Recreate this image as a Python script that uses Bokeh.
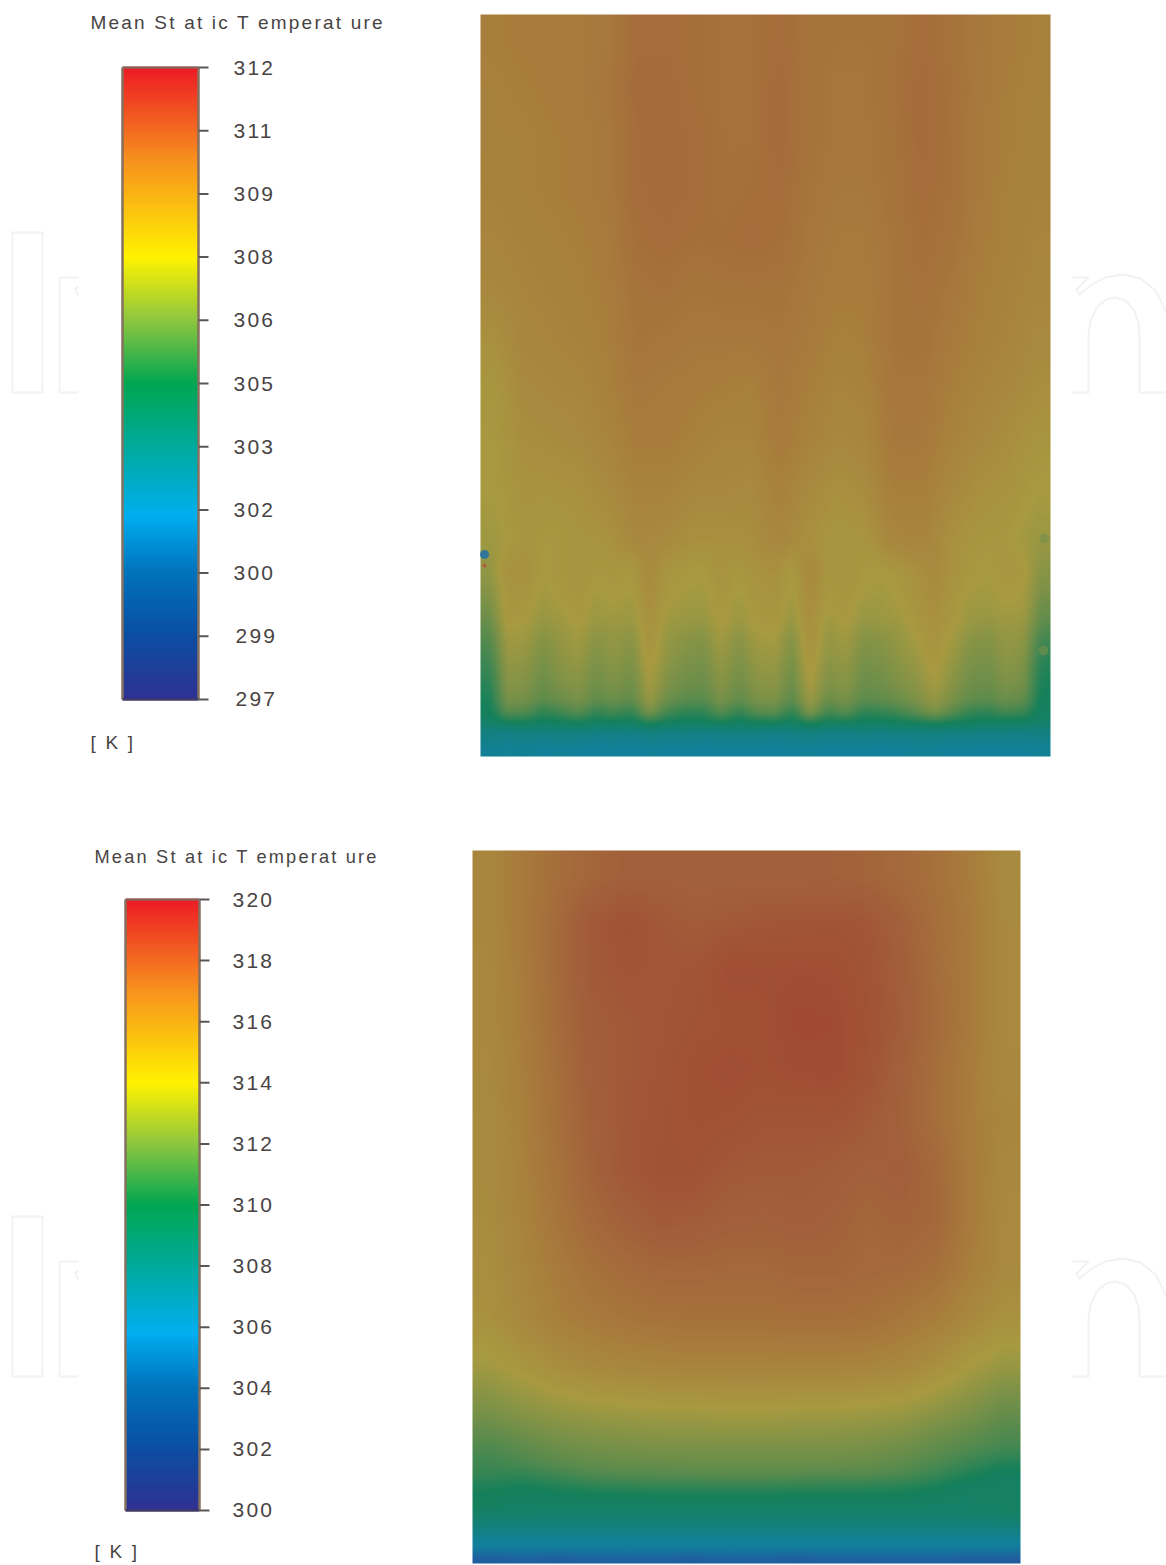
import numpy as np
from bokeh.core.properties import value
from bokeh.embed import file_html
from bokeh.models import ColumnDataSource, LinearColorMapper, Range1d
from bokeh.plotting import figure
from bokeh.resources import INLINE

# ---------- text and scale data ----------
TITLE = "Mean St at ic T emperat ure"
UNIT = "[ K ]"
scale1_ticks = [297, 298.5, 300, 301.5, 303, 304.5, 306, 307.5, 309, 310.5, 312]
scale1_labels = ["297", "299", "300", "302", "303", "305", "306", "308", "309", "311", "312"]
scale2_ticks = [300, 302, 304, 306, 308, 310, 312, 314, 316, 318, 320]
scale2_labels = ["300", "302", "304", "306", "308", "310", "312", "314", "316", "318", "320"]

# ---------- field values (K) ----------
field1_upper_rows = [39, 89, 139, 189, 239, 289, 339, 389, 439, 489, 539]
field1_upper = [
 [308.9,309.0,309.0,309.1,309.2,309.8,309.8,309.7,309.6,309.6,309.8,309.5,309.4,309.4,309.5,309.8,309.5,309.2,309.0,308.8],
 [308.8,308.9,309.0,309.1,309.3,309.9,309.9,309.7,309.6,309.6,309.9,309.5,309.3,309.3,309.6,309.9,309.6,309.2,308.9,308.8],
 [308.8,308.8,308.9,309.0,309.2,309.8,309.9,309.8,309.6,309.6,309.9,309.5,309.3,309.3,309.5,309.9,309.6,309.1,308.9,308.7],
 [308.7,308.8,308.9,309.0,309.2,309.8,309.9,309.8,309.6,309.7,309.8,309.4,309.2,309.2,309.5,309.8,309.6,309.1,308.8,308.7],
 [308.6,308.7,308.8,308.9,309.1,309.7,309.8,309.7,309.7,309.8,309.7,309.3,309.1,309.1,309.4,309.7,309.5,309.0,308.8,308.6],
 [308.4,308.6,308.7,308.8,309.0,309.5,309.6,309.4,309.5,309.5,309.5,309.2,309.0,309.0,309.4,309.6,309.3,308.9,308.7,308.5],
 [308.0,308.5,308.6,308.7,308.9,309.4,309.3,309.2,309.2,309.2,309.3,309.1,308.8,308.9,309.4,309.5,309.1,308.8,308.6,308.3],
 [307.7,308.3,308.4,308.5,308.8,309.2,309.1,309.0,308.9,308.8,309.2,308.9,308.6,308.7,309.3,309.3,308.9,308.6,308.4,308.1],
 [307.6,308.1,308.2,308.3,308.6,309.0,309.0,308.8,308.6,308.6,309.1,308.7,308.4,308.5,309.2,309.2,308.7,308.4,308.1,307.8],
 [307.5,307.9,307.9,308.0,308.3,308.7,308.7,308.4,308.4,308.3,308.8,308.3,308.0,308.2,308.9,308.9,308.4,308.0,307.9,307.5],
 [307.3,307.8,307.6,307.8,307.9,308.4,308.3,308.0,308.0,308.1,308.5,308.0,307.7,307.8,308.5,308.6,308.0,307.7,307.6,307.2],
]
field1_lower_rows = [572, 588, 604, 620, 636, 652, 668, 684, 700, 712, 722, 732, 748]
field1_lower = [
 [307.0,307.9,308.0,307.5,307.7,307.9,307.6,307.7,307.6,308.3,307.7,307.6,307.5,307.9,307.6,307.9,308.0,307.5,308.4,307.7,307.9,307.6,307.5,307.7,308.0,308.3,307.9,307.6,307.5,307.7,307.6,306.8],
 [306.8,307.8,307.8,307.4,307.6,307.8,307.5,307.6,307.5,308.2,307.6,307.5,307.4,307.8,307.5,307.8,307.9,307.4,308.3,307.6,307.8,307.5,307.4,307.6,307.9,308.2,307.8,307.5,307.4,307.6,307.5,306.6],
 [306.5,307.7,307.7,307.3,307.5,307.7,307.3,307.5,307.3,308.1,307.5,307.3,307.3,307.7,307.3,307.7,307.8,307.3,308.2,307.5,307.7,307.3,307.3,307.5,307.8,308.1,307.7,307.3,307.3,307.5,307.4,306.3],
 [306.2,307.6,307.5,307.1,307.3,307.6,307.2,307.3,307.2,308.0,307.3,307.2,307.1,307.6,307.2,307.6,307.7,307.1,308.1,307.3,307.6,307.1,307.2,307.3,307.7,308.0,307.6,307.2,307.1,307.3,307.2,306.0],
 [305.8,307.4,307.3,306.8,307.1,307.4,306.9,307.1,306.9,307.9,307.1,306.9,306.8,307.4,306.9,307.4,307.5,306.8,308.0,307.1,307.4,306.8,306.9,307.1,307.5,307.9,307.4,306.9,306.8,307.1,307.0,305.5],
 [305.5,307.2,307.1,306.6,307.0,307.2,306.7,307.0,306.7,307.8,307.0,306.7,306.6,307.2,306.7,307.2,307.3,306.6,307.9,307.0,307.2,306.6,306.7,307.0,307.3,307.8,307.2,306.7,306.6,307.0,306.8,305.1],
 [305.2,307.0,306.9,306.4,306.8,307.0,306.5,306.8,306.5,307.6,306.8,306.5,306.4,307.0,306.5,307.0,307.1,306.4,307.7,306.8,307.0,306.4,306.5,306.8,307.1,307.6,307.0,306.5,306.4,306.8,306.6,304.8],
 [304.9,306.8,306.7,306.2,306.6,306.8,306.3,306.6,306.3,307.4,306.6,306.3,306.2,306.8,306.3,306.8,306.9,306.2,307.5,306.6,306.8,306.2,306.3,306.6,306.9,307.4,306.8,306.3,306.2,306.6,306.4,304.6],
 [304.6,306.5,306.4,305.9,306.2,306.5,306.0,306.2,306.0,307.1,306.2,305.9,305.8,306.5,306.0,306.5,306.6,305.9,307.2,306.2,306.5,305.9,306.0,306.2,306.6,307.1,306.5,306.0,305.9,306.2,306.0,304.4],
 [304.4,305.8,305.7,305.0,305.4,305.8,305.1,305.4,305.1,306.5,305.4,305.0,305.0,305.8,305.1,305.8,305.9,305.0,306.6,305.4,305.8,305.0,305.1,305.4,305.9,306.5,305.8,305.1,305.0,305.4,305.2,304.2],
 [304.0,304.5,304.5,304.3,304.4,304.6,304.3,304.4,304.3,304.9,304.4,304.3,304.3,304.6,304.3,304.5,304.6,304.3,304.9,304.4,304.5,304.3,304.3,304.4,304.6,304.9,304.5,304.4,304.3,304.3,304.2,304.0],
 [303.0,302.9,303.0,303.0,303.0,303.1,302.8,302.9,302.8,303.1,302.9,303.0,302.9,302.9,303.0,303.0,302.8,302.9,303.1,302.9,302.9,303.0,302.9,303.0,303.0,303.1,303.0,303.0,302.9,303.0,302.9,303.0],
 [302.3,302.2,302.3,302.1,302.2,302.1,302.0,302.1,302.0,302.2,302.0,302.1,302.0,302.1,302.1,302.1,302.0,302.1,302.2,302.0,302.1,302.1,302.0,302.1,302.2,302.2,302.1,302.1,302.0,302.1,302.1,302.2],
]
field2_upper_rows = [875, 924, 973, 1022, 1071, 1121, 1170, 1219, 1268, 1317, 1366, 1415]
field2_upper = [
 [315.3,316.2,317.0,317.6,318.0,318.0,317.9,317.9,317.9,317.9,317.9,317.7,317.3,316.8,316.0,315.0],
 [315.3,316.2,317.3,318.6,319.1,318.7,318.4,318.6,318.8,318.9,319.0,318.8,318.0,317.0,316.2,315.1],
 [315.2,316.1,317.3,318.5,318.9,318.8,318.9,319.6,319.5,319.6,319.5,319.0,318.2,317.1,316.2,315.1],
 [315.2,316.0,317.2,318.3,318.6,318.8,319.1,319.3,319.4,319.9,319.8,319.2,318.3,317.2,316.2,315.1],
 [315.1,315.9,317.0,318.2,318.6,318.9,319.4,319.6,319.4,319.6,319.7,319.0,318.0,317.0,316.0,315.2],
 [315.0,315.8,316.9,318.0,318.7,319.0,319.3,319.2,318.9,318.9,318.9,318.5,317.9,317.0,316.0,315.3],
 [315.0,315.7,316.7,317.8,318.7,319.1,319.1,318.6,318.5,318.5,318.3,318.0,318.2,317.4,316.1,315.2],
 [314.9,315.6,316.5,317.4,318.0,318.5,318.4,318.1,318.0,318.2,318.0,317.5,317.8,317.5,316.1,315.1],
 [314.8,315.4,316.1,316.8,317.2,317.5,317.5,317.4,317.4,317.6,317.6,317.4,317.3,316.9,315.9,315.1],
 [314.6,315.2,315.8,316.2,316.5,316.7,316.8,316.8,316.8,316.9,316.9,316.8,316.4,315.9,315.2,314.6],
 [313.8,314.3,314.8,315.1,315.3,315.4,315.5,315.5,315.5,315.5,315.5,315.4,315.2,314.7,314.0,313.5],
 [312.6,313.0,313.3,313.5,313.6,313.7,313.7,313.8,313.8,313.7,313.7,313.6,313.5,313.1,312.7,312.1],
]
field2_lower_rows = [1445, 1455, 1465, 1475, 1485, 1495, 1505, 1515, 1525, 1535, 1547, 1559]
field2_lower = [
 [311.6,312.0,312.4,312.6,312.7,312.8,312.8,312.8,312.8,312.8,312.8,312.7,312.5,312.1,311.7,311.3],
 [311.3,311.7,312.1,312.3,312.4,312.5,312.5,312.5,312.5,312.5,312.5,312.4,312.2,311.8,311.3,310.8],
 [311.1,311.3,311.7,312.0,312.1,312.1,312.2,312.2,312.2,312.2,312.2,312.1,311.9,311.4,310.8,310.2],
 [310.8,310.7,311.1,311.5,311.6,311.7,311.7,311.8,311.8,311.7,311.6,311.6,311.4,310.9,310.2,309.7],
 [310.3,310.1,310.4,310.7,310.8,310.9,310.9,310.9,310.9,310.8,310.8,310.7,310.6,310.2,309.6,309.5],
 [309.9,309.7,309.8,309.9,310.0,310.0,310.1,310.1,310.1,310.0,310.0,310.0,309.9,309.7,309.5,309.5],
 [309.8,309.4,309.5,309.5,309.5,309.6,309.6,309.6,309.6,309.5,309.5,309.5,309.5,309.4,309.4,309.6],
 [309.2,309.1,309.0,309.0,309.0,309.0,309.0,309.0,309.0,309.0,309.0,309.0,309.0,309.0,309.1,309.3],
 [308.4,308.3,308.3,308.3,308.3,308.3,308.3,308.3,308.3,308.3,308.3,308.3,308.3,308.3,308.3,308.4],
 [307.4,307.4,307.4,307.4,307.4,307.4,307.4,307.4,307.4,307.4,307.4,307.4,307.4,307.4,307.4,307.4],
 [306.3,306.3,306.3,306.3,306.2,306.3,306.3,306.2,306.2,306.3,306.3,306.3,306.3,306.3,306.3,306.3],
 [303.8,304.0,303.8,304.0,304.2,304.0,303.8,304.2,304.0,303.8,304.0,303.9,304.1,304.0,303.8,303.6],
]
spot_x = [484, 484, 1044, 1043]
spot_y = [554, 565, 538, 650]
spot_size = [9, 4, 10, 10]
spot_color = ["#1f6fa8", "#b5533c", "#7f9048", "#648c4a"]

# ---------- colours ----------
BAR_POS = [0, .10, .20, .29, .50, .60, .70, .85, 1]
BAR_COL = ["#2e3192", "#0b4ea2", "#0072bc", "#00aeef", "#00a651", "#8dc63f", "#fff200", "#f7941d", "#ed1c24"]
FIELD_POS = [0, .20, .33, .50, .60, .70, .80, .90, 1]
FIELD_COL = ["#2a3a8c", "#1e60a0", "#12809c", "#15805a", "#608c4c", "#a89a40", "#a87c3c", "#a2603a", "#a04833"]
INK = "#484444"
MARK = "#f1f2f2"

def ramp(pos, cols, n=256):
    rgb = np.array([[int(c[i:i + 2], 16) for i in (1, 3, 5)] for c in cols], float)
    t = np.linspace(0, 1, n)
    out = np.stack([np.interp(t, pos, rgb[:, k]) for k in range(3)], 1).round().astype(int)
    return ["#%02x%02x%02x" % tuple(r) for r in out]

# ---------- page layout (pixel rows measured from page top) ----------
PAGE_W, PAGE_H = 1166, 1565
Y = lambda px: PAGE_H - px

p = figure(width=PAGE_W, height=PAGE_H, output_backend="svg", toolbar_location=None,
           x_range=Range1d(0, PAGE_W), y_range=Range1d(0, PAGE_H),
           x_axis_type=None, y_axis_type=None, min_border=0,
           outline_line_color=None, background_fill_color="white")
p.grid.visible = False

# watermark outlines (decoration)
n_left_x = [78, 59, 59, 78]
n_left_y = [277, 277, 392, 392]
n_hook_x = [78, 75, 76, 78]
n_hook_y = [286, 288, 292, 294]
n_right_x = [1072, 1088, 1076, 1079, 1090, 1104, 1122, 1140, 1155, 1166]
n_right_y = [277, 277, 289, 294, 285, 277, 274, 278, 290, 312]
n_foot_x = [1072, 1088, 1088, 1090, 1097, 1106, 1115, 1125, 1133, 1138, 1139, 1139, 1165]
n_foot_y = [392, 392, 335, 320, 306, 299, 297, 300, 309, 322, 335, 392, 392]
for dy in (0, 984):
    p.quad(left=12, right=42, top=Y(232 + dy), bottom=Y(392 + dy), fill_color=None,
           line_color=MARK, line_width=2)
    xs = [n_left_x, n_hook_x, n_right_x, n_foot_x]
    ys = [[Y(v + dy) for v in n_left_y], [Y(v + dy) for v in n_hook_y],
          [Y(v + dy) for v in n_right_y], [Y(v + dy) for v in n_foot_y]]
    p.multi_line(xs, ys, line_color=MARK, line_width=2, line_join="round")

def colorbar(name, low, high, top_px, bottom_px, left, right, ticks, labels, label_x, title_xy, title_size, unit_xy):
    per_px = (high - low) / (bottom_px - top_px)
    p.extra_y_ranges[name] = Range1d(low - (PAGE_H - bottom_px) * per_px, high + top_px * per_px)
    mapper = LinearColorMapper(palette=ramp(BAR_POS, BAR_COL), low=low, high=high)
    grad = np.linspace(low, high, 256).reshape(-1, 1)
    p.image(image=[grad], x=left, y=low, dw=right - left, dh=high - low,
            color_mapper=mapper, y_range_name=name)
    p.segment(x0=[left, right], x1=[left, right], y0=[low, low], y1=[high, high],
              line_color="#85705f", line_width=2.5, y_range_name=name)
    p.segment(x0=[left, left], x1=[right, right], y0=[high, low], y1=[high, low],
              line_color=["#8f6258", "#3f3a66"], line_width=2.5, y_range_name=name)
    p.segment(x0=[right] * len(ticks), x1=[right + 10] * len(ticks), y0=ticks, y1=ticks,
              line_color="#5a5656", line_width=2, y_range_name=name)
    src = ColumnDataSource(dict(x=label_x, y=[t + per_px for t in ticks[:1]] + ticks[1:], t=labels))
    p.text(x="x", y="y", text="t", source=src, y_range_name=name, text_font=value("Liberation Sans"),
           text_font_size="21px", text_color=INK, text_baseline="middle", text_align="left")
    p.text(x=[title_xy[0]], y=[Y(title_xy[1])], text=[TITLE], text_font=value("Liberation Sans"),
           text_font_size=title_size, text_color=INK, text_baseline="middle", text_align="left")
    p.text(x=[unit_xy[0]], y=[Y(unit_xy[1])], text=[UNIT], text_font=value("Liberation Sans"),
           text_font_size="19px", text_color=INK, text_baseline="middle", text_align="left")

colorbar("s1", 297, 312, 67, 699, 122, 198, scale1_ticks, scale1_labels,
         [235, 235, 233, 233, 233, 233, 233, 233, 233, 233, 233], (90, 22), "19px", (90, 742))
colorbar("s2", 300, 320, 899, 1510, 125, 199, scale2_ticks, scale2_labels,
         [232] * 11, (94, 856), "18.2px", (94, 1551))

def soften(a, k, axis):
    """Box filter, to give the soft look of the printed figure."""
    pad = [(0, 0), (0, 0)]
    pad[axis] = (k, k)
    b = np.pad(a, pad, mode="edge")
    c = np.cumsum(b, axis=axis)
    c = np.insert(c, 0, 0, axis=axis)
    n = 2 * k + 1
    return (np.take(c, range(n, c.shape[axis]), axis=axis) - np.take(c, range(0, c.shape[axis] - n), axis=axis)) / n

def field(sections, low, high, left, right, top_px, bottom_px):
    """Display the read grid at screen resolution: the browser would show it as hard cells otherwise."""
    xpix = np.arange(left, right) + .5
    ypix = np.arange(top_px, bottom_px) + .5
    rows, ypos = [], []
    for row_y, mat in sections:
        mat = np.array(mat, float)
        cx = left + (np.arange(mat.shape[1]) + .5) * (right - left) / mat.shape[1]
        for y, r in zip(row_y, mat):
            rows.append(np.interp(xpix, cx, r))
            ypos.append(y)
    rows = np.array(rows)
    img = np.stack([np.interp(ypix, ypos, rows[:, j]) for j in range(len(xpix))], 1)
    img = soften(soften(img, 3, 1), 2, 0)
    img = soften(soften(img, 2, 1), 2, 0)
    mapper = LinearColorMapper(palette=ramp(FIELD_POS, FIELD_COL, 1024), low=low, high=high)
    p.image(image=[img[::-1].astype(np.float32)], x=left, y=Y(bottom_px), dw=right - left,
            dh=bottom_px - top_px, color_mapper=mapper)

field([(field1_upper_rows, field1_upper), (field1_lower_rows, field1_lower)], 297, 312, 480, 1050, 14, 756)
field([(field2_upper_rows, field2_upper), (field2_lower_rows, field2_lower)], 300, 320, 472, 1020, 850, 1563)
p.scatter(x=spot_x, y=[Y(v) for v in spot_y], size=spot_size, color=spot_color, line_color=None, alpha=0.85)

html = file_html(p, INLINE)
html = html.replace("</head>", "<style>body{letter-spacing:2.2px}</style></head>", 1)
open("out.html", "w").write(html)
